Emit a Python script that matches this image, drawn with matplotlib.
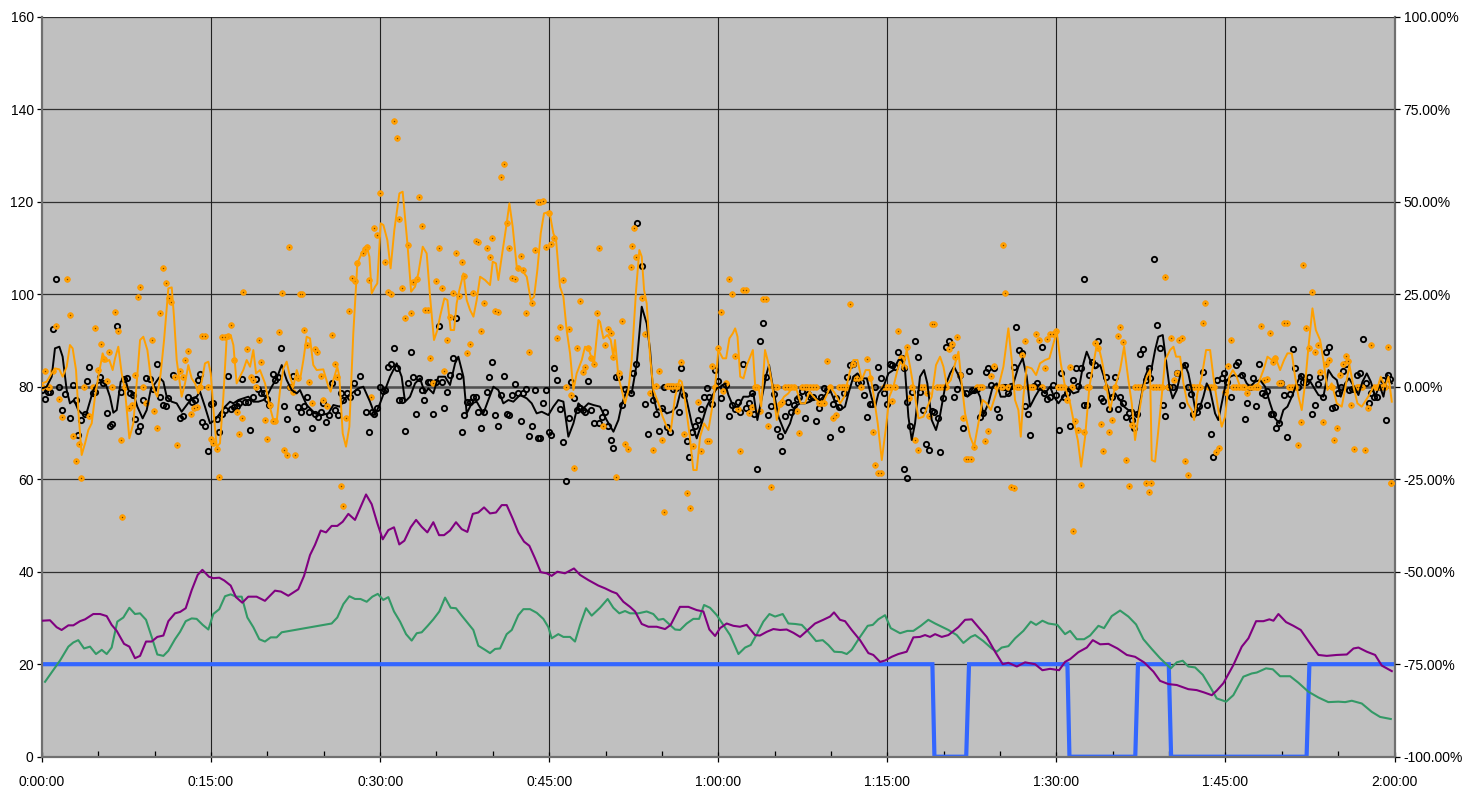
import matplotlib
matplotlib.use("Agg")
import matplotlib.pyplot as plt
from matplotlib.ticker import MultipleLocator, FuncFormatter

plt.rcParams['font.family'] = ['Liberation Sans', 'DejaVu Sans']

# ---------------- data (time in minutes) ----------------
# smoothed dark series
black_line_t = [0, 0.41, 0.86, 1.15, 1.54, 1.83, 2.19, 2.48, 2.84, 3.22, 3.52, 3.9, 4.2, 4.55, 4.91, 5.29, 5.68, 6.03, 6.33, 6.63,
                6.98, 7.36, 7.66, 8.1, 8.46, 8.93, 9.29, 9.64, 10.03, 10.41, 10.77, 11.06, 11.51, 11.95, 12.39, 12.84, 13.28, 13.72, 14.02, 14.46,
                14.91, 15.35, 15.79, 16.24, 16.68, 16.98, 17.42, 17.86, 18.31, 18.75, 19.2, 19.64, 19.93, 20.38, 20.82, 21.27, 21.71, 22.15, 22.6,
                22.89, 23.48, 24.22, 24.81, 25.41, 25.85, 26.44, 26.88, 27.48, 28.07, 28.51, 29.1, 29.55, 29.99, 30.43, 30.88, 31.47, 31.91, 32.21,
                32.65, 33.1, 33.54, 33.98, 34.28, 34.72, 35.17, 35.76, 36.2, 36.65, 36.94, 37.39, 37.68, 38.13, 38.57, 39.16, 39.6, 40.05, 40.49,
                40.93, 41.38, 41.82, 42.41, 43.01, 43.45, 43.89, 44.34, 44.93, 45.37, 45.81, 46.26, 46.7, 47.15, 47.59, 48.03, 48.48, 48.92, 49.51,
                50.1, 50.7, 51.14, 51.43, 51.88, 52.32, 52.77, 53.21, 53.65, 53.95, 54.25, 54.54, 54.99, 55.43, 55.87, 56.32, 56.76, 57.2, 57.65,
                58.09, 58.53, 58.98, 59.42, 59.86, 60.22, 60.6, 60.9, 61.34, 61.79, 62.23, 62.67, 63.12, 63.47, 63.86, 64.3, 64.51, 64.89, 65.34,
                65.93, 66.37, 66.81, 67.26, 67.7, 68.15, 68.59, 69.03, 69.48, 69.92, 70.36, 70.81, 71.25, 71.55, 71.99, 72.35, 72.73, 73.18, 73.62,
                73.92, 74.21, 74.66, 75.1, 75.54, 75.99, 76.28, 76.57, 76.87, 77.17, 77.46, 77.9, 78.26, 78.55, 78.94, 79.32, 79.68, 80.13, 80.57,
                80.92, 81.3, 81.75, 82.1, 82.49, 82.87, 83.23, 83.52, 83.97, 84.35, 84.71, 85.06, 85.45, 85.83, 86.19, 86.63, 87.01, 87.37, 87.66,
                88.11, 88.55, 88.99, 89.44, 89.79, 90.18, 90.62, 91.07, 91.51, 91.95, 92.4, 92.69, 92.99, 93.43, 93.88, 94.32, 94.76, 95.21, 95.65,
                96.01, 96.39, 96.83, 97.19, 97.58, 97.87, 98.17, 98.31, 98.76, 99.05, 99.44, 99.73, 100.03, 100.32, 100.68, 101.03, 101.36, 101.71,
                102.01, 102.39, 102.75, 103.04, 103.34, 103.64, 104.08, 104.37, 104.67, 105.06, 105.41, 105.77, 106.06, 106.45, 106.89, 107.19,
                107.63, 108.07, 108.52, 108.96, 109.4, 109.79, 110.14, 110.5, 110.89, 111.33, 111.68, 112.07, 112.45, 112.8, 113.25, 113.69, 114.14,
                114.52, 114.88, 115.23, 115.62, 115.97, 116.42, 116.8, 117.16, 117.54, 117.9, 118.28, 118.67, 119.02, 119.38, 119.76]
black_line_v = [79.64, 80, 82.16, 88.29, 88.65, 86.49, 79.28, 76.4, 77.12, 74.95, 74.23, 73.87, 76.4, 79.28, 80.72, 81.08, 80.36, 77.84, 74.38, 74.95,
                81.08, 81.8, 79.28, 78.56, 75.68, 73.15, 74.95, 79.28, 80.72, 82.02, 81.08, 77.84, 76.76, 76.4, 74.59, 76.04, 77.48, 77.84, 78.92, 75.68,
                72.07, 72.79, 74.23, 75.68, 76.76, 76.4, 77.12, 77.48, 77.84, 76.76, 76.76, 77.12, 77.84, 80, 81.8, 84.68, 81.44, 79.28, 78.56,
                79.28, 76.04, 74.23, 73.87, 74.23, 76.04, 75.68, 77.48, 78.56, 79.64, 80, 76.76, 73.87, 76.4, 79.28, 82.16, 85.05, 82.16, 76.76,
                77.84, 80.72, 81.8, 78.56, 79.64, 78.56, 82.16, 82.16, 80.36, 85.05, 86.49, 82.16, 74.23, 76.4, 76.76, 74.23, 77.12, 80, 79.28,
                76.4, 77.12, 76.76, 78.2, 77.48, 76.4, 74.23, 74.59, 73.87, 75.68, 77.12, 76.76, 69.19, 72.07, 76.4, 75.32, 76.4, 76.04, 75.68,
                72.79, 70.27, 72.79, 76.04, 79.28, 78.56, 85.05, 97.3, 93.69, 87.93, 77.84, 74.95, 75.32, 74.23, 74.59, 75.68, 80, 77.12, 72.07,
                68.83, 72.07, 75.68, 77.84, 79.64, 80, 80.72, 78.2, 75.68, 75.68, 77.84, 77.84, 78.56, 72.79, 77.48, 82.88, 84.68, 79.28, 73.51,
                69.91, 72.07, 75.68, 76.4, 76.4, 76.76, 77.48, 77.12, 78.2, 79.28, 76.76, 74.95, 75.68, 78.56, 82.16, 82.88, 81.8, 81.8, 77.48,
                75.68, 78.56, 80, 82.88, 83.6, 85.77, 85.77, 83.6, 73.51, 68.47, 72.07, 82.16, 83.6, 80.72, 72.79, 70.63, 73.87, 80, 82.88,
                84.32, 82.52, 79.28, 77.84, 78.56, 79.64, 77.84, 73.87, 76.4, 80, 80.72, 77.84, 77.84, 78.56, 80.72, 84.32, 86.13, 82.16, 75.68,
                77.84, 79.64, 78.56, 80, 77.84, 76.4, 77.84, 79.64, 78.56, 78.92, 85.05, 87.57, 85.77, 83.96, 84.68, 81.44, 77.84, 78.56, 77.12,
                75.68, 74.95, 74.95, 73.51, 78.56, 82.16, 83.96, 82.16, 87.93, 90.81, 91.17, 85.77, 80, 77.48, 79.28, 82.88, 85.05, 82.88,
                79.28, 74.23, 75.68, 77.84, 80.72, 79.28, 74.23, 72.79, 76.4, 81.08, 82.16, 82.52, 82.16, 82.88, 80.72, 80,
                81.08, 81.44, 80, 76.4, 73.15, 72.07, 74.95, 75.68, 77.84, 80.72, 82.52, 80.72, 81.44, 80, 78.2, 77.84, 83.6,
                82.16, 81.44, 77.84, 80.72, 81.8, 80, 78.2, 81.08, 82.88, 81.08, 77.84, 80.36, 77.84, 82.52, 80.72]

# smoothed orange series
orange_line_t = [0, 0.41, 0.86, 1.15, 1.54, 1.83, 2.19, 2.48, 2.72, 3.02, 3.22, 3.52, 3.82, 4.11, 4.41, 4.7, 5.0, 5.38, 5.68, 5.97,
                 6.27, 6.48, 6.77, 7.07, 7.36, 7.75, 8.1, 8.4, 8.7, 8.99, 9.35, 9.64, 9.94, 10.23, 10.53, 10.83, 11.21, 11.51, 11.71, 11.95,
                 12.39, 12.69, 12.98, 13.28, 13.58, 13.87, 14.17, 14.46, 14.76, 14.97, 15.26, 15.5, 15.79, 16.09, 16.39, 16.74, 16.98, 17.27,
                 17.57, 17.86, 18.16, 18.46, 18.75, 18.99, 19.34, 19.79, 20.17, 20.53, 20.82, 21.12, 21.41, 21.71, 22.0, 22.3, 22.6, 22.89,
                 23.19, 23.48, 23.78, 24.07, 24.37, 24.96, 25.41, 25.61, 25.85, 26.2, 26.38, 26.68, 26.97, 27.27, 27.62, 27.98, 28.36, 28.81,
                 29.05, 29.25, 29.55, 29.75, 30.05, 30.29, 30.64, 30.93, 31.26, 31.71, 32.0, 32.42, 32.75, 33.1, 33.39, 33.78, 34.13, 34.43,
                 34.78, 35.08, 35.31, 35.7, 35.97, 36.26, 36.56, 36.79, 37.03, 37.39, 37.68, 37.98, 38.28, 38.57, 38.87, 39.31, 39.75, 39.99,
                 40.28, 40.49, 40.79, 41.23, 41.47, 41.76, 42.12, 42.56, 43.01, 43.36, 43.66, 43.95, 44.25, 44.54, 45.02, 45.37, 45.61, 45.96,
                 46.26, 46.55, 46.85, 47.15, 47.44, 47.89, 48.18, 48.48, 48.77, 48.98, 49.37, 49.51, 49.81, 50.16, 50.46, 50.7, 50.84, 51.14,
                 51.43, 51.73, 52.03, 52.32, 52.71, 53.0, 53.21, 53.42, 53.65, 53.95, 54.25, 54.69, 55.07, 55.43, 55.78, 56.17, 56.55, 56.76,
                 57.05, 57.44, 57.79, 58.09, 58.39, 58.74, 59.13, 59.42, 59.72, 60.01, 60.4, 60.7, 60.99, 61.29, 61.5, 61.71, 61.95, 62.24,
                 62.54, 62.84, 63.07, 63.28, 63.58, 63.81, 64.15, 64.45, 64.81, 65.19, 65.49, 65.84, 66.22, 66.61, 66.96, 67.32, 67.7, 68.09,
                 68.44, 68.89, 69.27, 69.63, 69.92, 70.36, 70.81, 71.19, 71.63, 71.99, 72.35, 72.73, 73.08, 73.42, 73.76, 74.15, 74.51, 74.89,
                 75.18, 75.54, 75.9, 76.13, 76.43, 76.72, 77.02, 77.37, 77.76, 78.2, 78.56, 78.94, 79.32, 79.68, 79.98, 80.27, 80.63, 81.02,
                 81.31, 81.6, 81.9, 82.35, 82.7, 83.08, 83.46, 83.82, 84.18, 84.56, 84.94, 85.3, 85.74, 86.04, 86.33, 86.63, 86.84, 87.07,
                 87.37, 87.81, 88.2, 88.55, 89.0, 89.38, 89.74, 90.03, 90.39, 90.77, 91.22, 91.51, 91.9, 92.2, 92.55, 92.93, 93.29, 93.64,
                 94.03, 94.41, 94.76, 95.21, 95.65, 96.01, 96.39, 96.69, 96.98, 97.28, 97.66, 98.02, 98.31, 98.46, 98.76, 99.2, 99.65, 100.09,
                 100.39, 100.62, 100.98, 101.27, 101.63, 102.01, 102.22, 102.51, 102.9, 103.28, 103.64, 103.93, 104.37, 104.67, 104.97,
                 105.35, 105.65, 105.94, 106.3, 106.74, 107.13, 107.48, 107.93, 108.37, 108.73, 109.11, 109.41, 109.85, 110.2, 110.5, 110.89,
                 111.18, 111.48, 111.77, 112.07, 112.37, 112.72, 113.02, 113.4, 113.69, 114.05, 114.43, 114.88, 115.32, 115.71, 116.0, 116.36,
                 116.71, 117.09, 117.48, 117.84, 118.13, 118.43, 118.78, 119.17, 119.47, 119.76]
orange_line_v = [80.72, 81.08, 82.88, 83.96, 83.75, 82.16, 84.32, 89.01, 88.29, 83.6, 74.95, 65.23, 67.75, 70.63, 72.07, 77.84, 82.16, 87.21, 85.41, 85.77,
                 83.6, 86.13, 88.65, 82.88, 79.28, 68.83, 72.07, 80.72, 90.09, 90.81, 87.93, 82.16, 79.28, 77.84, 82.88, 90.09, 101.26, 101.48, 95.14, 85.77,
                 77.84, 80.72, 84.68, 81.8, 80.72, 78.56, 81.08, 85.05, 85.41, 82.88, 73.51, 67.03, 67.75, 77.84, 90.81, 91.17, 89.01, 80.72,
                 82.16, 83.6, 85.77, 84.32, 87.93, 82.88, 83.6, 80.72, 76.04, 72.79, 72.43, 79.28, 83.96, 85.41, 82.16, 80, 83.6, 81.44,
                 85.77, 90.81, 90.45, 84.68, 83.6, 83.75, 80, 78.92, 81.44, 84.32, 82.16, 69.91, 67.03, 71.35, 91.53, 106.67, 108.83, 110.27,
                 108.11, 100.18, 101.62, 102.34, 115.32, 114.95, 111.71, 105.59, 113.87, 121.8, 122.16, 110.99, 100.54, 101.62, 104.5, 110.27, 108.83, 99.46,
                 90.09, 92.25, 95.14, 99.1, 98.74, 92.25, 92.25, 98.02, 100.9, 104.5, 98.74, 96.58, 95.14, 98.74, 103.78, 103.06, 101.98, 107.03,
                 106.67, 103.06, 108.11, 115.32, 119.64, 114.59, 105.95, 105.23, 103.78, 98.74, 99.46, 105.23, 113.15, 117.48, 117.84, 113.15, 111.71, 101.62,
                 99.46, 92.25, 87.21, 79.28, 82.88, 85.77, 88.65, 88.29, 86.13, 85.05, 94.41, 94.05, 90.45, 91.17, 90.09, 86.49, 90.09, 82.16,
                 79.28, 76.4, 79.28, 85.77, 100.9, 109.55, 108.11, 100.9, 98.02, 86.49, 79.28, 76.4, 73.51, 71.35, 70.27, 77.84, 81.44, 81.08,
                 77.12, 69.91, 61.98, 61.98, 69.19, 72.07, 70.63, 74.95, 80, 87.93, 86.13, 86.13, 90.45, 91.53, 92.61, 90.81, 82.16, 81.8,
                 84.68, 86.49, 87.93, 80, 80, 75.68, 87.93, 85.05, 80, 72.79, 76.4, 77.84, 78.56, 80, 79.28, 76.4, 76.4, 78.92,
                 77.84, 76.76, 76.4, 78.2, 80, 78.56, 76.4, 77.84, 82.88, 85.77, 85.77, 81.44, 83.6, 83.6, 78.56, 72.07, 64.14, 71.35,
                 77.84, 80, 83.6, 85.41, 84.32, 87.93, 84.32, 79.28, 73.15, 73.51, 75.68, 77.84, 84.68, 86.49, 84.32, 80.36, 81.44, 85.05,
                 87.57, 80.72, 74.23, 69.19, 67.03, 72.07, 77.12, 76.4, 74.95, 77.84, 80.72, 84.32, 92.61, 85.77, 77.12, 74.95, 69.19, 77.84,
                 84.32, 83.96, 82.52, 85.05, 85.77, 86.13, 89.37, 91.89, 85.05, 80, 76.4, 72.79, 68.47, 62.7, 69.19, 80, 85.05, 89.73,
                 85.77, 80.72, 74.95, 80, 83.6, 88.65, 81.44, 76.4, 68.47, 73.51, 79.28, 82.16, 83.6, 64.14, 63.78, 74.23, 85.77, 87.93,
                 88.65, 86.49, 86.49, 80.72, 76.4, 74.95, 72.79, 78.56, 82.16, 87.93, 87.93, 82.16, 74.95, 71.35, 73.51,
                 82.16, 83.6, 82.52, 80, 79.28, 80, 80, 80.72, 83.6, 86.49, 85.77, 86.49, 83.6, 85.77, 87.21, 87.21,
                 82.16, 77.84, 74.95, 80.72, 88.65, 96.94, 92.25, 90.09, 85.77, 79.28, 80.72, 76.4, 75.68, 80.72, 84.68, 80,
                 76.4, 75.68, 77.12, 78.56, 80, 79.28, 82.16, 80, 82.16, 76.76]

# individual orange readings
orange_t = [0.0, 0.27, 0.56, 0.65, 1.01, 1.24, 1.51, 1.74, 2.25, 2.48, 2.72, 3.02, 3.25, 3.46, 3.73, 4.2, 4.5, 4.73, 4.97, 5.23,
            5.5, 5.8, 5.97, 6.24, 6.48, 6.71, 6.98, 7.1, 7.36, 7.72, 7.99, 8.25, 8.49, 8.73, 9.0, 9.2, 9.73, 9.94, 10.23, 10.47, 10.71,
            10.97, 11.24, 11.48, 11.8, 11.95, 12.25, 12.48, 12.72, 12.98, 13.25, 13.52, 13.72, 14.02, 14.23, 14.46, 14.73, 14.97, 15.2,
            15.5, 15.73, 15.97, 16.24, 16.5, 16.77, 17.04, 17.27, 17.51, 17.75, 17.84, 18.19, 18.52, 18.75, 18.99, 19.22, 19.46, 19.76,
            19.99, 20.23, 20.47, 20.7, 21.0, 21.27, 21.47, 21.71, 21.92, 22.0, 22.24, 22.48, 22.74, 22.9,
            23.04, 23.25, 23.48, 23.72, 23.99, 24.22, 24.43, 24.73, 24.96, 25.26, 25.7, 26.0, 26.2, 26.5, 26.7, 26.97, 27.24, 27.48, 27.77,
            27.98, 28.45, 28.66, 28.81, 28.99, 29.2, 29.46, 29.72, 30.0, 30.47, 30.71, 30.94, 31.23, 31.47, 31.71, 31.97, 32.24, 32.45,
            32.71, 32.95, 33.24, 33.48, 33.71, 33.98, 34.22, 34.46, 34.72, 34.96, 35.2, 35.46, 35.7, 35.97, 36.2, 36.47, 36.71, 36.97,
            37.24, 37.42, 37.71, 37.98, 38.21, 38.48, 38.72, 38.95, 39.22, 39.45, 39.72, 39.96, 40.19, 40.46, 40.73, 40.99, 41.23, 41.47,
            41.7, 41.97, 42.21, 42.47, 42.71, 42.97, 43.21, 43.51, 43.74, 43.98, 44.22, 44.48, 44.72, 44.95, 45.19, 45.43, 45.7, 45.96,
            46.23, 46.46, 46.73, 46.97, 47.21, 47.47, 47.71, 47.97, 48.21, 48.45, 48.69, 48.95, 49.22, 49.45,
            49.75, 49.99, 50.22, 50.49, 50.64, 50.93, 51.2, 51.46, 51.73, 51.97, 52.23, 52.35, 52.55, 52.71, 53.21, 53.51, 53.95, 54.25,
            54.45, 54.72, 54.99, 55.23, 55.43, 55.64, 55.81, 56.02, 56.26, 56.46, 56.7, 56.97, 57.2, 57.45, 57.74, 58.21, 58.48, 58.98,
            59.21, 59.48, 59.72, 59.95, 60.22, 60.45, 60.72, 60.99, 61.23, 61.46, 61.73, 61.94, 62.2, 62.44, 62.73, 63.0, 63.26, 63.47,
            63.74, 63.98, 64.21, 64.45, 64.69, 64.92, 65.19, 65.46, 65.69, 65.96, 66.22, 66.46, 66.69, 66.96, 67.2, 67.43, 67.67, 67.91,
            68.17, 68.41, 68.64, 68.91, 69.15, 69.41, 69.68, 69.92, 70.19, 70.48, 70.72, 70.95, 71.19, 71.43, 71.69, 71.93, 72.17, 72.43,
            72.7, 73.21, 73.47, 73.71, 73.94, 74.21, 74.45, 74.71, 74.95, 75.21, 75.45, 75.71, 75.95,
            76.22, 76.49, 76.75, 76.96, 77.19, 77.46, 77.73, 77.97, 78.23, 78.5, 78.71, 78.94, 79.18, 79.44, 79.68, 79.92, 80.18, 80.48,
            80.71, 80.98, 81.22, 81.48, 81.72, 81.95, 82.19, 82.46, 82.7, 82.96, 83.2, 83.43, 83.7, 83.94, 84.2, 84.47, 84.71, 84.95,
            85.21, 85.3, 85.45, 85.69, 85.98, 86.22, 86.48, 86.72, 86.95, 87.22, 87.46, 87.72, 87.96, 88.23, 88.46, 88.7, 88.97, 89.21,
            89.44, 89.68, 89.94, 90.18, 90.41, 90.68, 90.95, 91.18, 91.42, 91.45, 91.69, 91.95, 92.19, 92.43, 92.69, 92.93, 93.43, 93.67,
            93.93, 94.17, 94.43, 94.67, 94.94, 95.21, 95.44, 95.68, 95.95, 96.19, 96.48, 96.75, 96.98, 97.25, 97.49, 97.73, 97.99, 98.2,
            98.4, 98.61, 98.85, 99.08, 99.35, 99.65, 99.94, 100.18, 100.44, 100.68, 100.92, 101.18, 101.45, 101.72, 102.01, 102.25, 102.49,
            102.75, 102.99, 103.22, 103.49, 103.73, 103.99, 104.2, 104.47, 104.97, 105.21, 105.47, 105.71, 105.94, 106.21, 106.45, 106.68,
            106.92, 107.19, 107.42, 107.69, 107.93, 108.19, 108.43, 108.67, 108.91, 109.2, 109.44, 109.71, 109.94, 110.21, 110.44, 110.68,
            110.95, 111.18, 111.42, 111.68, 111.92, 112.18, 112.42, 112.69, 112.92, 113.19, 113.43, 113.69, 113.93, 114.2, 114.43, 114.67,
            114.93, 115.17, 115.41, 115.68, 115.91, 116.18, 116.41, 116.65, 116.89, 117.15, 117.42, 117.66, 117.92, 118.16, 118.43, 118.66,
            118.9, 119.17, 119.4, 119.67, 119.73]
orange_v = [80.0, 83.5, 80.0, 80.0, 83.5, 93.1, 77.3, 73.5, 103.2, 95.5, 69.3, 64.0, 67.7, 60.2, 80.0, 73.7, 80.0, 92.6, 83.7, 89.2,
            85.9, 81.3, 87.4, 80.0, 96.2, 92.1, 68.4, 51.9, 80.0, 75.3, 76.0, 82.5, 99.5, 101.5, 80.0, 76.4, 90.2, 74.7, 71.0, 96.0, 105.6,
            102.5, 99.1, 98.4, 82.2, 67.5, 83.5, 82.2, 85.8, 87.8, 74.1, 75.3, 75.7, 80.0, 91.0, 91.0, 80.0, 68.6, 67.9,
            66.5, 60.4, 90.7, 90.8, 91.0, 93.3, 85.8, 74.6, 69.7, 73.3, 100.4, 88.1, 82.2, 81.4, 80.0, 90.2, 85.3, 72.8,
            68.8, 76.0, 72.6, 72.6, 91.9, 100.2, 66.3, 65.2, 110.2, 80.0, 78.9, 65.2, 81.9, 100.0,
            100.0, 92.3, 89.0, 81.1, 76.5, 88.1, 87.4, 82.4, 77.1, 75.8, 91.2, 85.0, 82.2, 58.5, 54.2, 73.3, 96.4, 103.5, 102.8,
            106.7, 108.8, 109.8, 110.1, 103.1, 77.8, 114.4, 112.9, 121.8, 106.9, 100.4, 100.1, 137.5, 133.8, 116.3, 101.3, 94.9, 110.6,
            95.9, 102.7, 103.3, 121.0, 114.8, 96.6, 96.6, 86.3, 80.9, 102.8, 109.9, 101.3, 83.5, 90.1, 95.0, 100.3, 108.8, 99.6,
            106.9, 103.9, 87.2, 89.2, 100.3, 111.4, 111.3, 92.0, 98.0, 109.9, 108.0, 112.2, 96.4, 96.1, 125.4, 128.1, 115.3, 109.9,
            103.4, 103.2, 105.7, 108.3, 105.2, 95.9, 87.5, 98.0, 109.5, 119.9, 120.0, 120.2, 110.3, 117.5, 110.8, 112.1, 90.6, 93.0,
            103.1, 80.0, 92.4, 78.2, 62.4, 88.3, 98.5, 83.2, 84.3, 88.3, 86.3, 85.0, 95.9, 109.9,
            71.5, 89.1, 92.5, 91.6, 86.5, 60.5, 83.0, 94.2, 67.7, 66.5, 105.9, 110.5, 114.4, 108.1, 99.2, 91.3, 78.6, 66.3,
            80.1, 83.5, 68.5, 53.0, 80.1, 80.1, 80.1, 80.1, 80.1, 80.1, 85.4, 69.7, 57.1, 53.8, 67.2, 76.6, 66.1, 68.3,
            68.3, 84.5, 80.0, 88.3, 96.2, 79.1, 80.7, 103.2, 100.0, 86.6, 75.1, 66.1, 101.0, 101.0, 74.4, 75.7, 80.0, 80.0,
            74.8, 98.9, 98.9, 71.5, 58.4, 80.0, 80.0, 76.2, 76.8, 80.0, 80.0, 80.0, 80.0, 74.7, 69.9, 80.0, 80.0, 80.0,
            80.0, 80.0, 80.0, 76.4, 76.4, 76.4, 85.5, 80.0, 73.2, 73.9, 80.0, 80.0, 80.0, 80.0, 97.9, 85.0, 81.8, 81.8,
            80.0, 86.0, 81.8, 70.1, 63.1, 61.3, 61.3, 80.0, 80.0, 80.0, 76.9, 80.0, 92.0,
            86.3, 84.2, 88.6, 77.5, 80.0, 68.5, 66.3, 80.0, 80.0, 78.6, 73.7, 93.5, 93.5, 80.0, 80.0, 80.0, 80.0, 88.1,
            89.2, 86.5, 90.8, 82.5, 73.2, 64.3, 64.3, 64.3, 67.0, 80.0, 80.0, 80.0, 68.3, 70.4, 82.3, 84.5, 80.0, 80.0,
            80.0, 110.6, 100.3, 80.0, 58.4, 58.2, 80.0, 80.0, 86.8, 89.9, 80.0, 80.0, 80.0, 91.5, 90.1, 80.0, 84.0, 90.4,
            91.3, 91.5, 92.1, 80.0, 80.0, 80.0, 77.1, 84.3, 80.0, 48.8, 72.6, 70.6, 58.7, 70.1, 80.0, 80.0, 89.4, 88.3,
            71.9, 66.1, 80.0, 70.1, 72.8, 80.0, 91.0, 93.0, 89.7, 64.1, 58.5, 71.7, 80.0, 80.0, 80.0, 80.0, 59.1, 57.3,
            59.1, 80.0, 80.0, 80.0, 80.0, 103.8, 80.0, 90.5, 81.4, 82.9, 90.2, 90.5, 64.0, 61.0, 80.0, 80.0, 80.0,
            80.0, 93.7, 98.2, 80.0, 80.0, 80.0, 65.9, 66.8, 78.9, 84.5, 90.1, 80.0, 80.0, 80.0, 80.0, 80.0,
            78.6, 80.0, 80.0, 80.0, 80.0, 93.1, 81.4, 81.6, 91.7, 85.4, 86.3, 80.9, 80.7, 93.7, 93.7, 80.0,
            80.0, 80.0, 67.5, 72.3, 106.3, 92.6, 88.3, 100.4, 87.6, 89.0, 83.2, 72.4, 85.0, 85.8, 80.0, 68.5,
            71.0, 82.5, 85.0, 86.6, 85.5, 76.0, 66.5, 80.0, 80.0, 80.0, 66.3, 75.3, 89.0, 80.0, 80.0, 80.0,
            80.0, 80.0, 88.6, 59.2, 59.1]

# individual dark readings
black_t = [0.0, 0.27, 0.56, 0.71, 0.95, 1.21, 1.51, 1.74, 2.04, 2.45, 2.72, 3.02, 3.22, 3.49, 3.82, 4.02, 4.2, 4.5, 4.73, 5.15,
           5.44, 5.74, 6.03, 6.24, 6.68, 6.98, 7.31, 7.51, 7.81, 8.04, 8.25, 8.49, 8.7, 9.0, 9.2, 9.58, 9.82, 10.23, 10.47, 10.77,
           11.0, 11.21, 11.65, 12.25, 12.48, 12.98, 13.28, 13.58, 13.81, 14.02, 14.23, 14.46, 14.76, 14.97, 15.2, 15.5, 15.73, 15.97,
           16.24, 16.5, 16.74, 17.04, 17.27, 17.51, 17.75, 18.01, 18.25, 18.46, 18.69, 18.96, 19.2, 19.43, 19.7, 19.93, 20.17, 20.47,
           20.7, 20.97, 21.21, 21.47, 21.77, 22.0, 22.27, 22.54, 22.74,
           22.98, 23.25, 23.48, 23.72, 23.99, 24.22, 24.52, 24.73, 24.96, 25.2, 25.5, 25.7, 26.0, 26.23, 26.5, 26.74, 27.03, 27.33,
           27.71, 27.98, 28.22, 28.75, 28.99, 29.25, 29.46, 29.75, 29.99, 30.23, 30.47, 30.71, 30.94, 31.2, 31.47, 31.71, 31.97, 32.24,
           32.45, 32.71, 32.95, 33.21, 33.45, 33.72, 33.92, 34.22, 34.46, 34.72, 34.96, 35.2, 35.46, 35.7, 35.97, 36.2, 36.47, 36.71,
           36.97, 37.24, 37.47, 37.71, 37.98, 38.21, 38.48, 38.72, 38.95, 39.22, 39.45, 39.69, 39.96, 40.19, 40.46, 40.73, 40.99, 41.23,
           41.47, 41.7, 41.97, 42.21, 42.47, 42.71, 42.97, 43.21, 43.45, 43.74, 43.98, 44.22, 44.48, 44.72, 44.95, 45.19, 45.46, 45.73,
           45.96, 46.23, 46.46, 46.73, 46.97, 47.21, 47.47, 47.71, 47.97, 48.21, 48.45, 48.69, 48.95, 49.45,
           49.66, 49.96, 50.22, 50.46, 50.7, 50.93, 51.2, 51.46, 51.73, 52.23, 52.47, 52.71, 52.79, 53.21, 53.48, 53.74, 54.19, 54.48,
           54.72, 54.99, 55.22, 55.43, 55.72, 55.96, 56.22, 56.49, 56.7, 56.97, 57.2, 57.44, 57.71, 57.94, 58.21, 58.48, 58.71, 58.98,
           59.21, 59.48, 59.72, 59.95, 60.22, 60.45, 60.72, 60.99, 61.23, 61.46, 61.73, 61.94, 62.2, 62.44, 62.73, 63.0, 63.2, 63.47,
           63.74, 63.98, 64.21, 64.45, 64.69, 64.95, 65.19, 65.46, 65.69, 65.96, 66.22, 66.46, 66.69, 66.96, 67.2, 67.43, 67.7, 67.94,
           68.17, 68.44, 68.67, 68.91, 69.15, 69.41, 69.65, 69.92, 70.19, 70.42, 70.69, 70.92, 71.19, 71.43, 71.69, 71.93, 72.17, 72.43,
           72.7, 72.94, 73.21, 73.44, 73.68, 73.94, 74.18, 74.45, 74.71, 74.95, 75.21, 75.45, 75.71, 75.95,
           76.28, 76.49, 76.49, 76.72, 76.78, 77.02, 77.22, 77.46, 77.7, 77.91, 78.2, 78.44, 78.71, 78.94, 79.18, 79.47, 79.68, 79.98,
           80.21, 80.45, 80.69, 80.95, 81.22, 81.46, 81.72, 81.99, 82.22, 82.49, 82.73, 82.96, 83.26, 83.52, 83.73, 83.97, 84.23, 84.47,
           84.74, 84.94, 85.24, 85.48, 85.71, 85.98, 86.22, 86.45, 86.72, 86.95, 87.22, 87.46, 87.69, 87.99, 88.26, 88.5, 88.73, 88.94,
           89.21, 89.44, 89.74, 90.0, 90.21, 90.45, 90.68, 90.92, 91.18, 91.45, 91.72, 91.95, 92.19, 92.43, 92.46, 92.69, 92.93, 93.2,
           93.43, 93.67, 93.93, 94.17, 94.43, 94.67, 94.94, 95.21, 95.44, 95.68, 95.95, 96.19, 96.45, 96.72, 96.92, 97.16, 97.43, 97.7,
           97.93, 98.2,
           98.31, 98.67, 98.96, 99.2, 99.44, 99.65, 100.03, 100.39, 100.74, 101.12, 101.42, 101.72, 101.92, 102.16, 102.45, 102.69,
           103.04, 103.4, 103.69, 103.93, 104.23, 104.67, 104.88, 105.12, 105.47, 105.95, 106.15, 106.45, 106.71, 106.95, 107.19, 107.48,
           107.72, 107.96, 108.25, 108.52, 108.73, 109.0, 109.26, 109.47, 109.73, 109.94, 110.21, 110.44, 110.74, 110.98, 111.21, 111.45,
           111.68, 111.92, 112.18, 112.45, 112.69, 112.92, 113.19, 113.43, 113.69, 113.93, 114.2, 114.46, 114.73, 114.97, 115.23, 115.47,
           115.71, 115.97, 116.24, 116.47, 116.71, 116.95, 117.18, 117.45, 117.72, 117.95, 118.22, 118.45, 118.72, 118.95, 119.22, 119.46,
           119.63]
black_v = [79.3, 77.3, 78.9, 78.9, 92.5, 103.3, 80.0, 75.0, 78.4, 73.2, 80.4, 77.1, 69.5, 72.8, 74.2, 81.3, 84.2, 78.6, 78.9, 82.2,
           80.9, 74.4, 71.4, 71.9, 93.1, 78.9, 81.6, 81.8, 78.6, 78.2, 73.0, 70.5, 71.6, 77.1, 81.8, 81.7, 79.6, 85.0, 77.8, 76.0,
           75.8, 77.5, 82.5, 73.2, 73.7, 77.8, 76.8, 77.1, 81.4, 82.7, 72.4, 71.4, 66.2, 76.3, 76.4, 73.0, 70.3, 74.1,
           75.0, 82.3, 75.1, 75.7, 75.8, 76.4, 81.6, 76.8, 76.8, 70.6, 77.8, 81.7, 79.6, 78.6, 78.6, 77.3, 76.0, 82.7,
           81.4, 82.2, 88.3, 75.8, 73.0, 80.0, 82.3, 70.8, 75.7,
           74.6, 75.8, 77.8, 74.6, 71.0, 74.2, 73.5, 74.6, 76.4, 72.4, 73.9, 80.7, 75.0, 73.9, 78.7, 77.1, 78.6, 77.8,
           80.7, 78.9, 82.3, 74.6, 70.3, 74.6, 74.2, 75.3, 80.0, 79.1, 79.3, 84.3, 85.0, 88.3, 84.0, 77.1, 77.1, 70.5,
           80.7, 87.6, 82.2, 74.2, 81.8, 79.3, 77.1, 81.1, 81.1, 74.0, 81.1, 93.1, 81.1, 75.5, 78.8, 82.5, 86.3, 94.8,
           82.3, 70.3, 73.9, 76.8, 76.6, 77.8, 77.8, 74.6, 71.0, 74.6, 78.9, 82.2, 85.3, 73.9, 71.6, 78.2, 82.3, 74.2,
           73.9, 78.2, 80.5, 78.6, 72.6, 78.7, 79.6, 69.3, 71.5, 79.3, 69.0, 69.0, 76.5, 79.3, 70.3, 69.5, 84.0, 81.4,
           75.1, 68.1, 59.7, 73.2, 81.1, 77.5, 75.0, 75.3, 75.0, 74.6, 81.3, 75.0, 72.2, 72.2,
           73.5, 74.6, 71.4, 68.5, 66.7, 82.2, 82.0, 76.0, 79.4, 78.7, 83.0, 85.0, 115.5, 106.2, 76.3, 69.8, 77.1, 74.2,
           70.5, 75.5, 79.9, 71.2, 70.3, 79.6, 79.8, 74.6, 84.1, 78.2, 68.3, 64.7, 70.1, 71.5, 72.9, 75.1, 77.8, 79.8,
           77.7, 76.3, 83.6, 81.2, 77.6, 80.0, 80.4, 73.7, 76.0, 75.1, 76.6, 74.6, 84.9, 75.5, 76.5, 78.6, 74.1, 62.3,
           89.9, 93.7, 82.0, 73.8, 75.8, 78.4, 70.8, 69.4, 66.2, 73.7, 76.8, 74.6, 76.0, 77.3, 77.8, 79.1, 73.2, 78.4,
           77.7, 77.8, 72.6, 75.5, 77.8, 79.8, 79.3, 69.2, 76.3, 77.5, 75.7, 70.8, 78.6, 82.0, 84.7, 85.0, 81.9, 80.9,
           81.1, 78.2, 73.5, 76.2, 76.3, 80.0, 84.3, 81.9, 78.7, 76.3, 85.0, 84.7, 84.2, 87.4,
           86.1, 84.0, 62.2, 60.2, 76.8, 71.4, 78.9, 89.9, 86.5, 78.9, 75.0, 67.6, 66.3, 74.7, 74.6, 73.2, 65.9, 77.5,
           88.6, 89.9, 89.0, 77.8, 79.6, 82.5, 71.0, 78.6, 83.5, 79.3, 79.3, 79.6, 73.5, 74.4, 83.2, 84.0, 80.4, 84.0,
           75.2, 73.5, 80.0, 80.0, 78.6, 80.1, 84.2, 93.0, 87.9, 87.2, 75.8, 74.0, 69.5, 80.1, 80.9, 80.0, 88.6, 78.6,
           77.3, 77.8, 80.4, 78.2, 70.6, 82.9, 77.8, 78.6, 71.4, 81.4, 84.0, 80.1, 84.0, 76.0, 103.3, 76.0, 82.5, 85.4,
           84.7, 89.9, 77.5, 77.0, 82.2, 75.1, 77.8, 82.2, 75.1, 77.8, 76.4, 73.5, 74.4, 72.8, 71.0, 74.2, 87.1, 88.1,
           81.4, 84.0,
           81.8, 107.7, 93.3, 88.3, 76.0, 73.7, 80.0, 80.0, 82.9, 76.0, 84.7, 80.0, 78.4, 74.1, 74.6, 75.8,
           83.2, 76.0, 69.7, 64.7, 81.4, 81.8, 83.0, 81.1, 77.8, 84.7, 85.4, 82.5, 73.0, 76.5, 80.0, 81.8,
           75.9, 84.9, 78.7, 78.1, 79.1, 74.2, 74.1, 71.1, 72.1, 80.9, 78.1, 69.2, 78.4, 88.2, 84.0, 80.0,
           82.3, 81.1, 81.1, 82.2, 74.0, 76.0, 80.6, 82.2, 77.8, 87.4, 88.6, 75.3, 75.7, 78.6, 80.0, 83.5,
           85.0, 79.3, 79.6, 79.6, 82.5, 82.9, 90.3, 80.9, 76.4, 78.7, 77.8, 77.7, 79.9, 81.4, 72.8, 82.5,
           81.6]

# purple series
purple_t = [0, 0.71, 1.3, 1.74, 2.34, 2.78, 3.37, 3.82, 4.55, 5.15, 5.74, 6.18, 6.63, 7.28, 7.75, 8.25, 8.7, 9.23, 9.73, 10.23,
            10.77, 11.21, 11.8, 12.25, 12.75, 13.28, 13.81, 14.23, 14.82, 15.2, 15.73, 16.17, 16.74, 17.21, 17.77, 18.3, 19.04, 19.78,
            20.67, 21.2, 21.85, 22.74, 23.25, 23.78, 24.22, 24.73, 25.2, 25.7, 26.2, 26.68, 27.18, 27.77, 28.28, 28.75, 29.25, 29.75,
            30.23, 30.73, 31.23, 31.7, 32.15, 32.71, 33.19, 33.69, 34.19, 34.72, 35.23, 35.67, 36.2, 36.73, 37.24, 37.74, 38.22, 38.71,
            39.22, 39.75, 40.28, 40.79, 41.23, 41.76, 42.26, 42.77, 43.24, 43.74, 44.25, 44.78, 45.22, 45.72, 46.4, 47.2, 47.74, 48.47,
            49.36, 49.96, 50.55, 50.99, 51.58, 52.17, 52.62, 53.21, 53.8, 54.54, 55.28, 55.78, 56.6, 57.35, 58.09, 58.68, 59.21, 59.72,
            60.16, 60.75, 61.34, 61.93, 62.52, 63.26, 63.7, 64.3, 64.89, 65.48, 66.07, 66.66, 67.26, 67.85, 68.59, 69.32, 69.92, 70.27,
            70.8, 71.25, 71.84, 72.58, 73.32, 73.76, 74.36, 74.8, 75.39, 75.98, 76.72, 77.31, 77.9, 78.35, 78.79, 79.24, 79.83, 80.42,
            81.3, 81.9, 82.49, 83.23, 83.82, 84.56, 85.24, 85.74, 86.49, 87.22, 88.11, 88.76, 89.44, 90.24, 90.77, 91.22, 91.95, 92.7,
            93.23, 93.88, 94.62, 95.42, 96.25, 96.98, 97.78, 98.61, 99.2, 99.94, 100.68, 101.71, 102.45, 103.1, 103.79, 104.23, 104.82,
            105.7, 106.45, 107.04, 107.72, 108.37, 108.9, 109.26, 109.7, 110.38, 111.03, 111.68, 112.51, 113.25, 113.99, 114.88, 115.77,
            116.36, 116.8, 117.54, 118.28, 118.87, 119.76]
purple_v = [29.4, 29.5, 28.0, 27.4, 28.4, 28.4, 29.3, 29.7, 30.85, 30.85, 30.4, 28.5, 27.2, 24.4, 23.8, 21.3, 21.8, 24.9, 24.9, 25.9,
            26.2, 29.3, 31.0, 31.3, 32.1, 36.0, 39.3, 40.4, 38.9, 38.6, 38.7, 38.1, 37.0, 34.5, 33.3, 34.6, 34.6, 33.7,
            35.9, 35.7, 34.8, 36.2, 39.1, 43.6, 45.8, 48.9, 48.5, 49.9, 49.9, 50.8, 52.5, 51.2, 54.05, 56.7, 54.6, 50.5,
            47.0, 49.0, 49.6, 45.9, 46.7, 49.6, 51.2, 49.7, 48.5, 50.7, 47.9, 47.9, 48.9, 50.7, 49.2, 48.6, 52.5, 52.8,
            53.9, 52.6, 52.8, 54.4, 54.4, 51.5, 48.5, 46.5, 45.6, 42.9, 39.9, 39.65, 39.1, 40.0, 39.65, 40.7, 39.3, 38.2,
            37.0, 36.4, 35.7, 35.3, 33.5, 32.4, 31.4, 28.7, 28.1, 28.1, 27.6, 28.5, 32.4, 32.4, 31.7, 31.4, 27.5, 26.1,
            27.8, 28.8, 28.3, 28.1, 28.5, 26.3, 26.2, 27.0, 27.6, 27.4, 27.5, 26.8, 25.9, 27.2, 28.8, 29.6, 30.3, 31.2,
            29.6, 29.3, 27.4, 25.2, 22.4, 22.0, 20.5, 20.8, 21.6, 22.2, 22.7, 25.8, 25.9, 26.3, 25.9, 26.5, 25.9, 26.3,
            28.0, 29.6, 29.7, 27.6, 25.9, 22.7, 20.0, 20.3, 19.5, 20.4, 20.0, 18.7, 19.0, 18.7, 20.5, 21.1, 22.6, 23.6,
            25.2, 24.3, 24.4, 23.4, 22.0, 21.6, 20.4, 18.4, 16.4, 15.7, 15.5, 14.6, 14.4, 13.9, 13.3, 14.3, 15.9,
            19.8, 23.8, 25.6, 29.3, 29.3, 29.7, 29.4, 30.85, 29.1, 28.3, 27.4, 24.5, 22.0, 21.8, 22.0, 22.1,
            23.4, 23.6, 22.7, 22.0, 19.7, 18.5]

# green series
green_t = [0.27, 1.6, 2.34, 2.78, 3.22, 3.73, 4.26, 4.79, 5.3, 5.74, 6.18, 6.68, 7.22, 7.75, 8.25, 8.7, 9.23, 9.73, 10.23, 10.77,
           11.21, 11.8, 12.25, 12.75, 13.28, 13.72, 14.26, 14.76, 15.2, 15.73, 16.24, 16.74, 17.21, 17.72, 18.22, 18.75, 19.28, 19.78,
           20.29, 20.82, 21.27, 25.7, 26.2, 26.74, 27.27, 27.77, 28.26, 28.81, 29.31, 29.79, 30.28, 30.73, 31.23, 31.77, 32.3, 32.8,
           33.25, 33.69, 34.22, 34.72, 35.25, 35.76, 36.26, 36.73, 37.24, 37.74, 38.27, 38.71, 39.31, 39.75, 40.2, 40.64, 41.23, 41.68,
           42.26, 42.71, 43.3, 43.9, 44.48, 44.93, 45.22, 45.81, 46.26, 46.85, 47.29, 47.74, 48.27, 48.77, 49.51, 50.19, 50.69, 51.22,
           51.73, 52.17, 52.91, 53.65, 54.24, 54.69, 55.13, 55.72, 56.17, 56.61, 57.2, 57.79, 58.3, 58.74, 59.27, 59.87, 60.45, 61.05,
           61.79, 62.38, 62.88, 63.47, 64.0, 64.54, 65.04, 65.72, 66.22, 66.82, 67.41, 68.0, 68.68, 69.27, 69.77, 70.3, 70.96, 71.4,
           71.84, 72.58, 73.26, 73.71, 74.2, 74.8, 75.3, 76.13, 76.78, 77.31, 77.97, 78.64, 79.24, 79.83, 80.42, 81.16, 81.75, 82.41,
           82.79, 83.52, 84.26, 84.71, 85.15, 85.74, 86.34, 87.07, 87.73, 88.2, 88.76, 89.29, 90.09, 90.77, 91.22, 91.81, 92.46, 92.99,
           93.73, 94.23, 94.91, 95.65, 96.39, 97.07, 97.72, 98.46, 99.2, 100.15, 100.68, 101.21, 101.71, 102.31, 102.99, 103.64, 104.23,
           105.06, 105.7, 106.59, 107.34, 107.78, 108.6, 109.2, 109.85, 110.74, 111.47, 112.36, 113.25, 114.13, 115.02, 115.62, 116.21,
           117.1, 117.98, 118.72, 119.67]
green_v = [16.2, 20.8, 23.8, 24.7, 25.2, 23.4, 23.8, 22.2, 23.1, 22.2, 23.6, 29.2, 30.1, 32.2, 30.85, 31.0, 29.6, 25.9, 22.1, 21.8,
           22.9, 25.4, 27.0, 29.3, 29.9, 29.8, 28.5, 27.5, 30.85, 31.9, 34.7, 35.1, 34.6, 34.6, 30.1, 28.0, 25.4, 24.9,
           25.8, 25.8, 26.9, 28.8, 30.1, 33.0, 34.7, 34.1, 34.1, 33.5, 34.6, 35.2, 33.9, 34.5, 31.4, 29.2, 26.5, 25.1,
           26.7, 26.9, 28.3, 29.7, 31.4, 34.4, 32.2, 32.1, 30.5, 29.0, 27.4, 24.0, 23.1, 22.4, 23.3, 23.4, 26.5, 27.4,
           30.6, 31.9, 31.9, 31.1, 29.8, 28.0, 25.6, 26.5, 25.9, 25.9, 24.9, 28.5, 32.1, 30.5, 32.2, 34.1, 32.2, 31.0,
           31.5, 31.0, 31.0, 31.4, 30.85, 29.6, 29.8, 28.5, 27.5, 27.4, 28.8, 29.8, 29.8, 32.8, 32.2, 30.6, 28.5, 26.3,
           22.2, 23.6, 24.15, 26.7, 29.2, 30.85, 30.3, 30.85, 28.8, 28.7, 28.5, 27.0, 25.0, 25.2, 24.15, 22.7, 22.6, 22.2,
           23.1, 25.9, 28.3, 28.5, 29.7, 30.6, 27.8, 26.7, 27.2, 27.2, 28.3, 29.6, 28.8, 28.1, 27.4, 26.3, 24.6, 25.9,
           26.3, 25.0, 23.4, 22.7, 23.6, 23.9, 25.6, 27.2, 29.2, 28.5, 29.4, 28.8, 28.5, 26.5, 27.2, 25.4, 25.4, 26.2,
           28.3, 27.8, 30.4, 31.6, 30.3, 28.6, 25.4, 23.3, 21.3, 19.1, 20.4, 20.75, 19.5, 19.3, 17.7, 15.1, 12.6,
           11.9, 13.3, 17.3, 18.0, 18.2, 19.1, 18.9, 17.4, 17.4, 16.0, 14.05, 12.8, 11.8, 11.9, 11.8, 12.1,
           11.5, 9.7, 8.6, 8.15]

# blue on/off series
blue_t = [0, 79.0, 79.18, 82.0, 82.25, 90.98, 91.16, 97.0, 97.24, 99.97, 100.18, 112.2, 112.45, 120]
blue_v = [20, 20, 0, 0, 20, 20, 0, 0, 20, 20, 0, 0, 20, 20]

# axis ticks
x_major = list(range(0, 121, 15))
y_left_ticks = list(range(0, 161, 20))
y_right_ticks = list(range(-100, 101, 25))

# ---------------- figure ----------------
W, H = 1480, 795
fig = plt.figure(figsize=(W / 100, H / 100), dpi=100)
ax = fig.add_axes([42 / W, 38.3 / H, 1352.5 / W, 740 / H])
ax.set_facecolor('#C0C0C0')
ax.set_xlim(0, 120)
ax.set_ylim(0, 160)

# grid
for y in y_left_ticks[1:]:
    ax.axhline(y, color='#303030', lw=0.9, zorder=1)
ax.axhline(80, color='#505050', lw=1.8, zorder=1)
for x in x_major[1:-1]:
    ax.axvline(x, color='#202020', lw=0.8, zorder=1)

# lines and markers
ax.plot(blue_t, blue_v, color='#3366FF', lw=3.0, zorder=2, solid_joinstyle='miter')
ax.plot(green_t, green_v, color='#339966', lw=1.5, zorder=3)
ax.plot(purple_t, purple_v, color='#800080', lw=1.5, zorder=3)
ax.plot(black_t, black_v, ls='none', marker='o', ms=3.8, mfc='none', mec='black', mew=1.35, zorder=4)
ax.plot(orange_t, orange_v, ls='none', marker='o', ms=4.1, mfc='#FFA000', mec='#FF9900', mew=0.5, zorder=4)
ax.plot(orange_t, orange_v, ls='none', marker='o', ms=1.0, mfc='#704000', mec='none', zorder=4)
ax.plot(black_line_t, black_line_v, color='black', lw=1.4, zorder=5)
ax.plot(orange_line_t, orange_line_v, color='#FFA000', lw=1.4, zorder=5)

# spines
for s in ['left', 'bottom', 'right']:
    ax.spines[s].set_color('#707070')
    ax.spines[s].set_linewidth(1.6)
ax.spines['top'].set_visible(False)

# x axis
def hms(v, pos=None):
    m = int(round(v))
    return f"{m // 60}:{m % 60:02d}:00"

ax.xaxis.set_major_locator(MultipleLocator(15))
ax.xaxis.set_minor_locator(MultipleLocator(5))
ax.xaxis.set_major_formatter(FuncFormatter(hms))
ax.tick_params(axis='x', which='major', direction='inout', length=7, width=0.9, color='black',
               labelsize=10, pad=10)
ax.tick_params(axis='x', which='minor', direction='in', length=4, width=0.9, color='black')

# left y axis
ax.set_yticks(y_left_ticks)
ax.tick_params(axis='y', which='major', direction='out', length=3.5, width=0.9, color='black',
               labelsize=10, pad=2.5)

# right y axis
ax2 = ax.twinx()
ax2.set_ylim(-100, 100)
ax2.set_yticks(y_right_ticks)
ax2.set_yticklabels([f"{v:.2f}%" for v in y_right_ticks])
ax2.tick_params(axis='y', direction='out', length=3.5, width=0.9, color='black', labelsize=10, pad=3)
for s in ax2.spines.values():
    s.set_visible(False)

fig.savefig('out.png', dpi=100, facecolor='white')
